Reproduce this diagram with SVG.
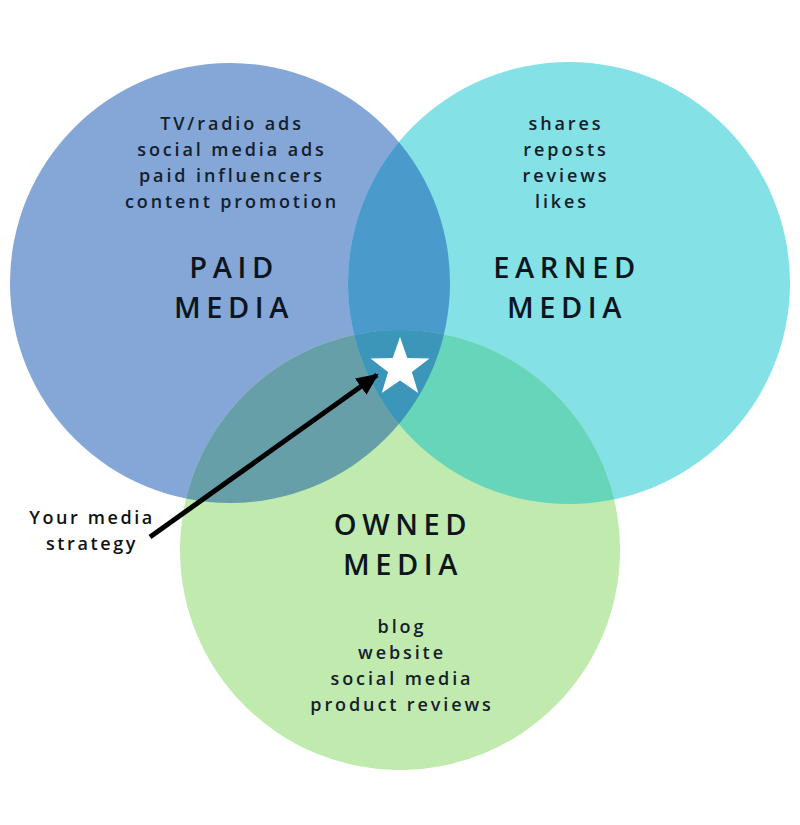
<svg xmlns="http://www.w3.org/2000/svg" width="800" height="825" viewBox="0 0 800 825">
<style>
.item{font-family:"Open Sans","Liberation Sans",sans-serif;font-size:18px;font-weight:600;letter-spacing:2.9px;fill:#14202b;text-anchor:middle}
.title{font-family:"Open Sans","Liberation Sans",sans-serif;font-size:29px;font-weight:600;letter-spacing:5.6px;fill:#0d1620;text-anchor:middle}
.lbl{font-family:"Open Sans","Liberation Sans",sans-serif;font-size:18px;font-weight:600;letter-spacing:2.6px;fill:#111;text-anchor:middle}
</style>
<defs>
<clipPath id="cPaid"><circle cx="230" cy="283" r="220"/></clipPath>
<clipPath id="cEarned"><circle cx="569" cy="283" r="221"/></clipPath>
<marker id="ah" markerUnits="userSpaceOnUse" markerWidth="24" markerHeight="24" refX="20" refY="10" orient="auto">
<path d="M0,0 L22,10 L0,20 Z" fill="#000"/>
</marker>
</defs>
<rect width="800" height="825" fill="#fff"/>
<g id="paid">
<circle cx="230" cy="283" r="220" fill="#84a7d7"/>
</g>
<g id="earned">
<circle cx="569" cy="283" r="221" fill="#84e1e6"/>
</g>
<g id="owned">
<circle cx="400" cy="550" r="220" fill="#c1eaae"/>
</g>
<g id="overlaps">
<circle cx="569" cy="283" r="221" fill="#4a9bcb" clip-path="url(#cPaid)"/>
<circle cx="400" cy="550" r="220" fill="#679fa9" clip-path="url(#cPaid)"/>
<circle cx="400" cy="550" r="220" fill="#66d5ba" clip-path="url(#cEarned)"/>
<g clip-path="url(#cEarned)">
<circle cx="400" cy="550" r="220" fill="#3b96b9" clip-path="url(#cPaid)"/>
</g>
</g>
<g id="paid-text">
<text class="item" x="232" y="130">TV/radio ads</text>
<text class="item" x="232" y="156">social media ads</text>
<text class="item" x="232" y="182">paid influencers</text>
<text class="item" x="232" y="208">content promotion</text>
<text class="title" x="234" y="278">PAID</text>
<text class="title" x="234" y="318">MEDIA</text>
</g>
<g id="earned-text">
<text class="item" x="566" y="130">shares</text>
<text class="item" x="566" y="156">reposts</text>
<text class="item" x="566" y="182">reviews</text>
<text class="item" x="562" y="208">likes</text>
<text class="title" x="567" y="278">EARNED</text>
<text class="title" x="567" y="318">MEDIA</text>
</g>
<g id="owned-text">
<text class="title" x="403" y="535">OWNED</text>
<text class="title" x="403" y="575">MEDIA</text>
<text class="item" x="402" y="633">blog</text>
<text class="item" x="402" y="659">website</text>
<text class="item" x="402" y="685">social media</text>
<text class="item" x="402" y="711">product reviews</text>
</g>
<g id="connectors">
<line x1="150" y1="537" x2="377" y2="375" stroke="#000" stroke-width="5" marker-end="url(#ah)"/>
</g>
<g id="strategy">
<text class="lbl" x="92" y="524">Your media</text>
<text class="lbl" x="92" y="550">strategy</text>
</g>
<g id="star">
<path d="M400,337 L407.3,357.9 L429.5,358.4 L411.9,371.9 L418.2,393.1 L400,380.5 L381.8,393.1 L388.1,371.9 L370.5,358.4 L392.7,357.9 Z" fill="#fff"/>
</g>
</svg>
